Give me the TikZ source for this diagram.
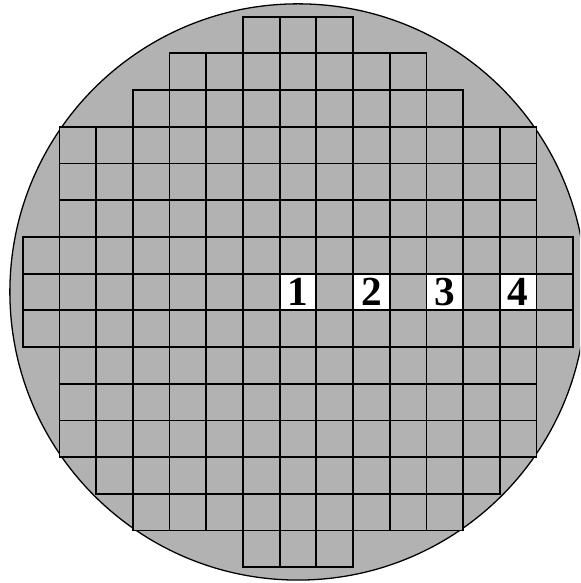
\documentclass[tikz,border=0pt]{standalone}
\usepackage{fontspec}
\setmainfont{Liberation Serif}
\begin{document}
\begin{tikzpicture}[yscale=-1,
    die/.style={draw, line width=1.4pt, fill=black!30},
    numcell/.style={draw, line width=1.4pt, fill=white, minimum size=1cm, inner sep=0pt,
      font=\fontsize{32}{33}\selectfont\bfseries}
  ]
    % Bordi della figura
    \path[use as bounding box, clip] (-0.619,-0.455) rectangle (15.186,15.43);
    % Wafer
    \draw[line width=1pt, fill=black!30] (7.5,7.5) circle (7.85);
    % Griglia dei die: riga / prima colonna / ultima colonna
    \foreach \r/\a/\b in {0/6/8, 1/4/10, 2/3/11, 3/1/13, 4/1/13, 5/1/13, 6/0/14, 7/0/14,
                          8/0/14, 9/1/13, 10/1/13, 11/1/13, 12/2/12, 13/3/11, 14/6/8} {
      \foreach \c in {\a,...,\b} {
        \draw[die] (\c,\r) rectangle ++(1,1);
      }
    }
    % Die numerati
    \node[numcell] (die1) at (7.5,7.5) {1};
    \node[numcell] (die2) at (9.5,7.5) {2};
    \node[numcell] (die3) at (11.5,7.5) {3};
    \node[numcell] (die4) at (13.5,7.5) {4};
  \end{tikzpicture}
\end{document}
